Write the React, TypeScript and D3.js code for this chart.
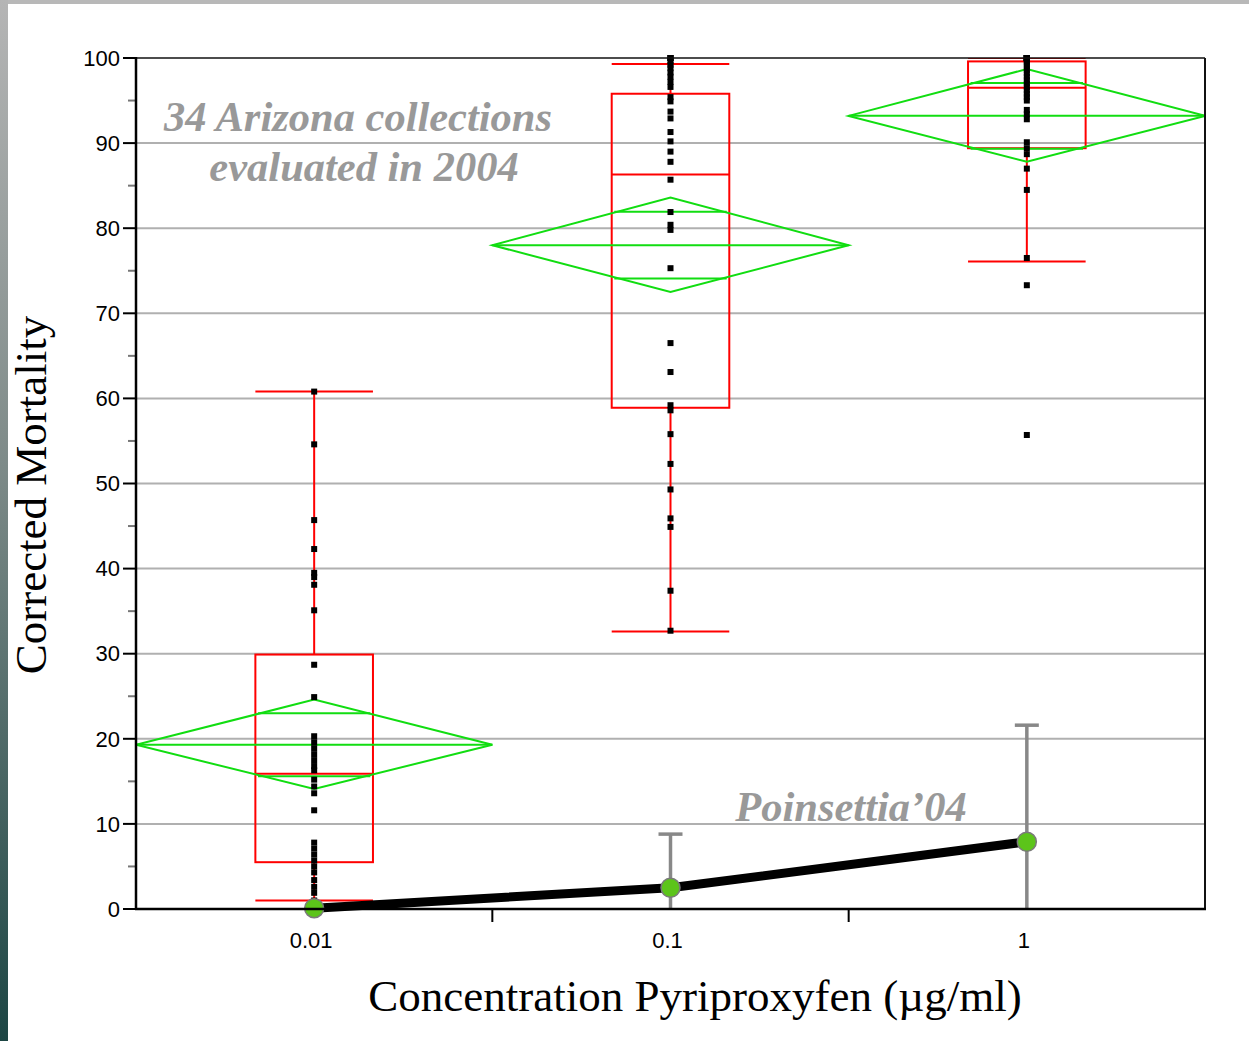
import React from "react";
import * as d3 from "d3";

// ---------- data ----------
const categories = ["0.01", "0.1", "1"];

const obs001 = [60.8, 54.6, 45.7, 42.3, 39.5, 39.0, 38.1, 35.1, 28.7, 24.9, 20.3, 19.6, 18.9, 18.2, 17.5, 16.8, 16.3, 15.2, 14.4, 13.6, 11.6, 7.8, 7.1, 6.4, 5.7, 5.0, 4.3, 3.4, 2.6, 1.9, 1.0, 0.5, 0, 0];
const obs01 = [100, 100, 100, 99.6, 99.2, 98.8, 98.3, 97.8, 97.2, 96.6, 95.4, 94.9, 93.7, 92.9, 91.3, 90.2, 89.0, 87.8, 85.7, 81.9, 80.4, 79.8, 75.3, 66.5, 63.1, 59.2, 58.6, 55.8, 52.3, 49.3, 45.9, 44.9, 37.4, 32.7];
const obs1 = [100, 100, 100, 100, 100, 100, 100, 100, 100, 99.8, 99.6, 99.3, 99.0, 98.6, 98.2, 97.8, 97.4, 97.0, 96.6, 96.2, 95.8, 95.4, 95.0, 93.9, 93.4, 92.8, 90.1, 89.4, 88.7, 87.0, 84.5, 76.5, 73.3, 55.7];

// box plot summaries
const whiskerLo = [1.0, 32.6, 76.1];
const q1s = [5.5, 58.9, 89.4];
const medians = [15.9, 86.3, 96.5];
const q3s = [29.9, 95.8, 99.6];
const whiskerHi = [60.8, 99.3, 100];

// means diamonds (mean and 95% CI)
const means = [19.3, 78.0, 93.2];
const ciLo = [14.1, 72.5, 87.8];
const ciHi = [24.6, 83.6, 98.7];

// Poinsettia'04 line
const poinMeans = [0.1, 2.5, 7.9];
const poinErrHi = [null, 8.8, 21.6];

const yTicks = [0, 10, 20, 30, 40, 50, 60, 70, 80, 90, 100];
const yMinor = [5, 15, 25, 35, 45, 55, 65, 75, 85, 95];

// ---------- layout ----------
const W = 1249;
const H = 1041;
const left = 136;
const right = 1205;
const top = 58;
const bottom = 909;

const RED = "#ff0000";
const GREEN = "#11dd11";
const GREY_TXT = "#999999";

export default function App() {
  const x = d3.scaleBand<string>().domain(categories).range([left, right]).padding(0);
  const y = d3.scaleLinear().domain([0, 100]).range([bottom, top]);
  const bw = x.bandwidth();
  const boxW = bw * 0.33;
  const groups = [obs001, obs01, obs1];

  const lineGen = d3
    .line<number>()
    .x((_, i) => x(categories[i])! + bw / 2)
    .y((d) => y(d));

  return (
    <svg
      width={W}
      height={H}
      style={{ position: "absolute", left: 0, top: 0, background: "#fff" }}
      fontFamily="Liberation Sans, Arial, sans-serif"
    >
      <defs>
        <linearGradient id="leftStrip" x1="0" y1="0" x2="0" y2="1">
          <stop offset="0" stopColor="#b5b5b5" />
          <stop offset="0.45" stopColor="#7d8a88" />
          <stop offset="1" stopColor="#1d4644" />
        </linearGradient>
        <clipPath id="plotClip">
          <rect x={left} y={top} width={right - left} height={bottom - top} />
        </clipPath>
      </defs>
      <rect x={0} y={0} width={W} height={H} fill="#fff" />
      <rect x={0} y={0} width={W} height={4} fill="#b8b8b8" />
      <rect x={0} y={0} width={8} height={H} fill="url(#leftStrip)" />

      {/* gridlines */}
      {yTicks.slice(1, -1).map((t) => (
        <line key={"g" + t} x1={left} x2={right} y1={y(t)} y2={y(t)} stroke="#b0b0b0" strokeWidth={2} />
      ))}

      {/* y ticks */}
      {yTicks.map((t) => (
        <g key={"yt" + t}>
          <line x1={left - 13} x2={left} y1={y(t)} y2={y(t)} stroke="#000" strokeWidth={2} />
          <text x={left - 16} y={y(t)} dy="0.35em" textAnchor="end" fontSize={22} fill="#000">
            {t}
          </text>
        </g>
      ))}
      {yMinor.map((t) => (
        <line key={"ym" + t} x1={left - 8} x2={left} y1={y(t)} y2={y(t)} stroke="#777" strokeWidth={2} />
      ))}

      {/* x boundary ticks */}
      {categories.slice(1).map((c) => (
        <line key={"xb" + c} x1={x(c)!} x2={x(c)!} y1={bottom} y2={bottom + 13} stroke="#000" strokeWidth={2} />
      ))}
      {categories.map((c) => (
        <text key={"xl" + c} x={x(c)! + bw / 2 - 3} y={bottom + 39} textAnchor="middle" fontSize={22} fill="#000">
          {c}
        </text>
      ))}

      <g clipPath="url(#plotClip)">
        {/* box plots */}
        {categories.map((c, i) => {
          const cx = x(c)! + bw / 2;
          return (
            <g key={"box" + c} stroke={RED} strokeWidth={2} fill="none">
              <line x1={cx} x2={cx} y1={y(whiskerLo[i])} y2={y(q1s[i])} />
              <line x1={cx} x2={cx} y1={y(q3s[i])} y2={y(whiskerHi[i])} />
              <line x1={cx - boxW / 2} x2={cx + boxW / 2} y1={y(whiskerLo[i])} y2={y(whiskerLo[i])} />
              <line x1={cx - boxW / 2} x2={cx + boxW / 2} y1={y(whiskerHi[i])} y2={y(whiskerHi[i])} />
              <rect x={cx - boxW / 2} y={y(q3s[i])} width={boxW} height={y(q1s[i]) - y(q3s[i])} />
              <line x1={cx - boxW / 2} x2={cx + boxW / 2} y1={y(medians[i])} y2={y(medians[i])} />
            </g>
          );
        })}

        {/* means diamonds */}
        {categories.map((c, i) => {
          const x0 = x(c)!;
          const x1 = x0 + bw;
          const cx = x0 + bw / 2;
          const half = (ciHi[i] - ciLo[i]) / 2;
          const ov = half / Math.SQRT2;
          const hw = (bw / 2) * (1 - ov / half);
          const pts = [
            [x0, y(means[i])],
            [cx, y(ciHi[i])],
            [x1, y(means[i])],
            [cx, y(ciLo[i])],
          ];
          return (
            <g key={"dia" + c} stroke={GREEN} strokeWidth={2} fill="none">
              <polygon points={pts.map((p) => p.join(",")).join(" ")} />
              <line x1={x0} x2={x1} y1={y(means[i])} y2={y(means[i])} />
              <line x1={cx - hw - 4} x2={cx + hw + 4} y1={y(means[i] + ov)} y2={y(means[i] + ov)} />
              <line x1={cx - hw - 4} x2={cx + hw + 4} y1={y(means[i] - ov)} y2={y(means[i] - ov)} />
            </g>
          );
        })}
      </g>

      {/* points */}
      {groups.map((g, i) =>
        g.map((v, j) => (
          <rect
            key={"p" + i + "-" + j}
            x={x(categories[i])! + bw / 2 - 3}
            y={y(v) - 3}
            width={6}
            height={6}
            fill="#000"
          />
        ))
      )}

      {/* Poinsettia error bars */}
      {categories.map((c, i) => {
        const hi = poinErrHi[i];
        if (hi == null) return null;
        const cx = x(c)! + bw / 2;
        return (
          <g key={"eb" + c} stroke="#888" strokeWidth={3.5}>
            <line x1={cx} x2={cx} y1={y(0)} y2={y(hi)} />
            <line x1={cx - 12} x2={cx + 12} y1={y(hi)} y2={y(hi)} />
          </g>
        );
      })}
      <path d={lineGen(poinMeans) || ""} fill="none" stroke="#000" strokeWidth={9} strokeLinejoin="round" />
      {poinMeans.map((v, i) => (
        <circle
          key={"pc" + i}
          cx={x(categories[i])! + bw / 2}
          cy={y(v)}
          r={9.5}
          fill="#5cc41a"
          stroke="#7a7a7a"
          strokeWidth={1.5}
        />
      ))}

      {/* frame */}
      <line x1={left} x2={right} y1={top} y2={top} stroke="#111" strokeWidth={1.5} />
      <line x1={right} x2={right} y1={top} y2={bottom} stroke="#111" strokeWidth={2} />
      <line x1={left} x2={left} y1={top - 1} y2={bottom + 1} stroke="#000" strokeWidth={2.5} />
      <line x1={left - 1} x2={right + 1} y1={bottom} y2={bottom} stroke="#000" strokeWidth={2.5} />

      {/* annotations */}
      <g fontFamily="Liberation Serif, Times New Roman, serif" fontStyle="italic" fontWeight="bold" fill={GREY_TXT} fontSize={42.5} textAnchor="middle">
        <text x={358} y={131}>34 Arizona collections</text>
        <text x={364} y={181}>evaluated in 2004</text>
        <text x={851} y={821}>Poinsettia’04</text>
      </g>

      {/* axis titles */}
      <text
        transform={`translate(${46},${495}) rotate(-90)`}
        textAnchor="middle"
        fontFamily="Liberation Serif, Times New Roman, serif"
        fontSize={45}
        fill="#000"
      >
        Corrected Mortality
      </text>
      <text
        x={695}
        y={1011}
        textAnchor="middle"
        fontFamily="Liberation Serif, Times New Roman, serif"
        fontSize={45}
        fill="#000"
      >
        Concentration Pyriproxyfen (µg/ml)
      </text>
    </svg>
  );
}
